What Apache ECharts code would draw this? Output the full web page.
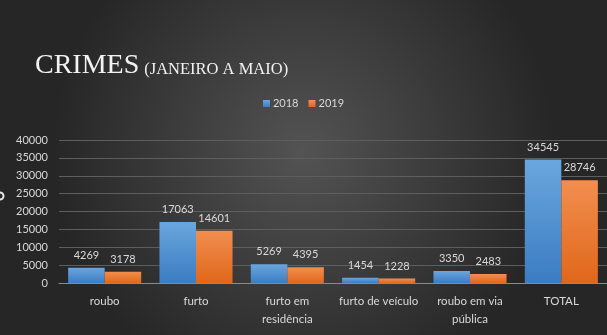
<!DOCTYPE html>
<html>
<head>
<meta charset="utf-8">
<script src="https://cdn.jsdelivr.net/npm/echarts@6/dist/echarts.min.js"></script>
<style>
  html, body { margin: 0; padding: 0; }
  #chart { width: 607px; height: 335px; }
</style>
</head>
<body>
<div id="chart"></div>
<script>
// Crime counts, January to May, 2018 vs 2019
const categories = ['roubo', 'furto', 'furto em\nresidência', 'furto de veículo', 'roubo em via\npública', 'TOTAL'];
const values2018 = [4269, 17063, 5269, 1454, 3350, 34545];
const values2019 = [3178, 14601, 4395, 1228, 2483, 28746];
const seriesNames = ['2018', '2019'];
const yTicks = { min: 0, max: 40000, interval: 5000 };

const textColor = '#d9d9d9';
const uiFont = 'Lato, "Open Sans", sans-serif';

function barFill(top, bottom) {
  return new echarts.graphic.LinearGradient(0, 0, 0, 1, [
    { offset: 0, color: top },
    { offset: 1, color: bottom }
  ]);
}

const chart = echarts.init(document.getElementById('chart'));
chart.setOption({
  backgroundColor: new echarts.graphic.RadialGradient(0.5, 0.45, 0.75, [
    { offset: 0, color: '#535353' },
    { offset: 1, color: '#262626' }
  ]),
  title: {
    left: 30,
    top: 47,
    text: '{a|CRIMES} {b|(JANEIRO A MAIO)}',
    textStyle: {
      fontWeight: 'normal',
      rich: {
        a: { fontFamily: '"Liberation Serif", serif', fontWeight: 'normal', fontSize: 28, color: '#f2f2f2', verticalAlign: 'bottom' },
        b: { fontFamily: '"Liberation Serif", serif', fontWeight: 'normal', fontSize: 16.5, color: '#f2f2f2', verticalAlign: 'bottom', padding: [0, 0, 2, 0] }
      }
    }
  },
  legend: {
    data: seriesNames,
    top: 93,
    left: 'center',
    itemWidth: 7,
    itemHeight: 7,
    itemGap: 10,
    icon: 'rect',
    textStyle: { color: textColor, fontFamily: uiFont, fontSize: 11, padding: [0, 0, 0, -2] }
  },
  grid: { left: 59, right: -4, top: 140, bottom: 52 },
  xAxis: {
    type: 'category',
    data: categories,
    axisTick: { show: false },
    axisLine: { lineStyle: { color: '#8a8a8a', width: 1 } },
    axisLabel: { interval: 0, color: textColor, fontFamily: uiFont, fontSize: 11.5, margin: 9, lineHeight: 18 }
  },
  yAxis: {
    type: 'value',
    min: yTicks.min,
    max: yTicks.max,
    interval: yTicks.interval,
    axisLine: { show: false },
    axisTick: { show: false },
    splitLine: { lineStyle: { color: '#5e5e5e', width: 1 } },
    axisLabel: { formatter: v => String(v), color: textColor, fontFamily: uiFont, fontSize: 11, margin: 11 }
  },
  series: [
    {
      name: seriesNames[0],
      type: 'bar',
      data: values2018,
      barGap: '0%',
      barCategoryGap: '20%',
      itemStyle: { color: barFill('#6aa6de', '#3b7cc2') },
      label: { show: true, position: 'top', distance: 7, color: textColor, fontFamily: uiFont, fontSize: 11 },
      labelLayout: { hideOverlap: false }
    },
    {
      name: seriesNames[1],
      type: 'bar',
      data: values2019,
      itemStyle: { color: barFill('#f28e50', '#e0671a') },
      label: { show: true, position: 'top', distance: 7, color: textColor, fontFamily: uiFont, fontSize: 11 },
      labelLayout: { hideOverlap: false }
    }
  ],
  graphic: [
    {
      type: 'circle',
      shape: { cx: 0, cy: 196, r: 3.5 },
      style: { fill: 'none', stroke: '#e8e8e8', lineWidth: 2 }
    }
  ]
});
</script>
</body>
</html>
